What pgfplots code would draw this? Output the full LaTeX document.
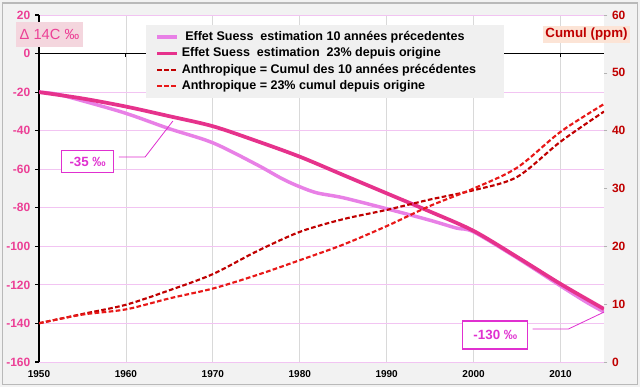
\documentclass[border=0pt]{standalone}
\usepackage{pgfplots}
\pgfplotsset{compat=1.18}
\usepackage{fontspec}
\setmainfont{Liberation Sans}
\definecolor{lightpk}{RGB}{232,128,230}
\definecolor{darkpk}{RGB}{230,50,140}
\definecolor{dred}{RGB}{192,0,0}
\definecolor{lred}{RGB}{232,24,24}
\definecolor{pinklab}{RGB}{236,64,150}
\definecolor{annot}{RGB}{224,48,208}
\definecolor{ygrid}{RGB}{242,196,242}
\definecolor{bgout}{RGB}{242,242,242}
\definecolor{legbg}{RGB}{240,240,240}
\definecolor{lab1bg}{RGB}{244,214,222}
\definecolor{lab2bg}{RGB}{252,228,214}
\begin{document}
\begin{tikzpicture}
\fill[bgout] (0,0) rectangle (480pt,290.25pt);
\draw[gray!55, line width=0.8pt] (2.2pt,2.2pt) rectangle (477.8pt,288pt);
\begin{axis}[
  at={(29.25pt,18.75pt)}, anchor=south west,
  scale only axis, width=423.75pt, height=260.25pt,
  xmin=1950, xmax=2015, ymin=-160, ymax=20,
  axis background/.style={fill=white},
  separate axis lines,
  axis x line*=bottom, axis y line*=left,
  x axis line style={draw=none},
  y axis line style={black, line width=1.5pt},
  xtick={1950,1960,...,2010},
  ytick={-160,-140,...,20},
  xtick style={draw=none},
  ytick style={black, line width=0.9pt},
  tick align=outside, major tick length=3pt,
  grid=major,
  x grid style={gray!30, line width=0.6pt},
  y grid style={ygrid, line width=0.6pt},
  /pgf/number format/assume math mode=true,
  x tick label style={/pgf/number format/1000 sep={}, font=\fontsize{7.5}{9}\selectfont\bfseries, text=black},
  y tick label style={font=\fontsize{9}{10}\selectfont\bfseries, text=pinklab},
  legend style={at={(0.189,0.971)}, anchor=north west, fill=legbg, draw=none,
    font=\fontsize{9.4}{10.5}\selectfont\bfseries, cells={anchor=west},
    row sep=0pt, inner xsep=7pt, inner ysep=2.5pt},
  legend image code/.code={\draw[#1] (0pt,0pt) -- (15pt,0pt);},
]
\draw[black, line width=1pt] (axis cs:1950,0) -- (axis cs:2015,0);
\draw[black, line width=0.8pt] (axis cs:1960,0) -- ([yshift=-2.5pt]axis cs:1960,0);
\draw[black, line width=0.8pt] (axis cs:1970,0) -- ([yshift=-2.5pt]axis cs:1970,0);
\draw[black, line width=0.8pt] (axis cs:1980,0) -- ([yshift=-2.5pt]axis cs:1980,0);
\draw[black, line width=0.8pt] (axis cs:1990,0) -- ([yshift=-2.5pt]axis cs:1990,0);
\draw[black, line width=0.8pt] (axis cs:2000,0) -- ([yshift=-2.5pt]axis cs:2000,0);
\draw[black, line width=0.8pt] (axis cs:2010,0) -- ([yshift=-2.5pt]axis cs:2010,0);
\addplot[lightpk, line width=2.6pt, smooth] coordinates {
 (1950,-20) (1952,-21) (1955,-24.5) (1960,-31) (1965,-39) (1970,-46.3)
 (1975,-57.5) (1978,-65) (1980,-69.1) (1982,-72.3) (1985,-74.8) (1990,-80.5)
 (1995,-86.5) (1998,-90.5) (2000,-92.5) (2005,-106) (2010,-120.5) (2013,-129) (2015,-134)};
\addlegendentry{\ Effet Suess\ \ estimation 10 années précedentes}
\addplot[darkpk, line width=2.8pt, smooth] coordinates {
 (1950,-20) (1955,-23.3) (1960,-27.5) (1965,-32.5) (1970,-37.7) (1975,-45.3)
 (1980,-53.5) (1985,-63) (1990,-72.5) (1995,-82) (2000,-92) (2005,-105.5)
 (2010,-119.5) (2015,-132.5)};
\addlegendentry{Effet Suess\ \ estimation\ \ 23\% depuis origine}
\addlegendimage{dred, line width=1.6pt, dash pattern=on 3.5pt off 1.8pt}
\addlegendentry{Anthropique = Cumul des 10 années précédentes\rule{12pt}{0pt}}
\addlegendimage{lred, line width=1.6pt, dash pattern=on 3.5pt off 1.8pt}
\addlegendentry{Anthropique = 23\% cumul depuis origine}
\node[draw=annot, fill=white, text=annot, font=\fontsize{10}{12}\selectfont\bfseries,
  minimum width=39pt, minimum height=17pt, inner sep=1pt, line width=0.8pt]
  at (axis cs:1955.6,-56) {-35 ‰};
\draw[annot, line width=0.6pt] (axis cs:1959.2,-53.7) -- (axis cs:1962.2,-53.7) -- (axis cs:1965.4,-35);
\node[draw=annot, fill=white, text=annot, font=\fontsize{10}{12}\selectfont\bfseries,
  minimum width=48.75pt, minimum height=21pt, inner sep=1pt, line width=0.8pt]
  at (axis cs:2002.5,-146) {-130 ‰};
\draw[annot, line width=0.6pt] (axis cs:2006.8,-142.9) -- (axis cs:2010.9,-142.9) -- (axis cs:2015,-134.1);
\end{axis}
\begin{axis}[
  at={(29.25pt,18.75pt)}, anchor=south west,
  scale only axis, width=423.75pt, height=260.25pt,
  xmin=1950, xmax=2015, ymin=0, ymax=60,
  separate axis lines,
  axis x line=none, axis y line*=right,
  y axis line style={draw=none},
  ytick={0,10,...,60},
  ytick style={gray!60, line width=0.5pt},
  tick align=outside, major tick length=2.5pt,
  /pgf/number format/assume math mode=true,
  y tick label style={font=\fontsize{9}{10}\selectfont\bfseries, text=dred},
]
\addplot[dred, line width=1.6pt, dash pattern=on 3.5pt off 1.8pt, smooth] coordinates {
 (1950,6.7) (1955,8.3) (1960,9.9) (1965,12.4) (1970,15.2) (1975,19.1) (1980,22.5)
 (1985,24.7) (1990,26.3) (1995,28.1) (2000,29.7) (2005,32.0) (2010,38.1) (2015,43.3)};
\addplot[lred, line width=1.6pt, dash pattern=on 3.5pt off 1.8pt, smooth] coordinates {
 (1950,6.7) (1955,8.2) (1960,9.1) (1965,11.0) (1970,12.7) (1975,15.0) (1980,17.6)
 (1985,20.3) (1990,23.5) (1995,27.0) (2000,30.0) (2005,33.6) (2010,39.8) (2015,44.6)};
\end{axis}
\node[fill=lab1bg, text=pinklab, font=\fontsize{11}{13}\selectfont,
  minimum width=50pt, minimum height=19pt, inner sep=1pt] at (37.1pt,264.4pt) {Δ 14C ‰};
\node[fill=lab2bg, text=dred, font=\fontsize{10}{12}\selectfont\bfseries,
  minimum width=65pt, minimum height=12.75pt, inner sep=1pt] at (439.9pt,264.4pt) {Cumul (ppm)};
\end{tikzpicture}
\end{document}
